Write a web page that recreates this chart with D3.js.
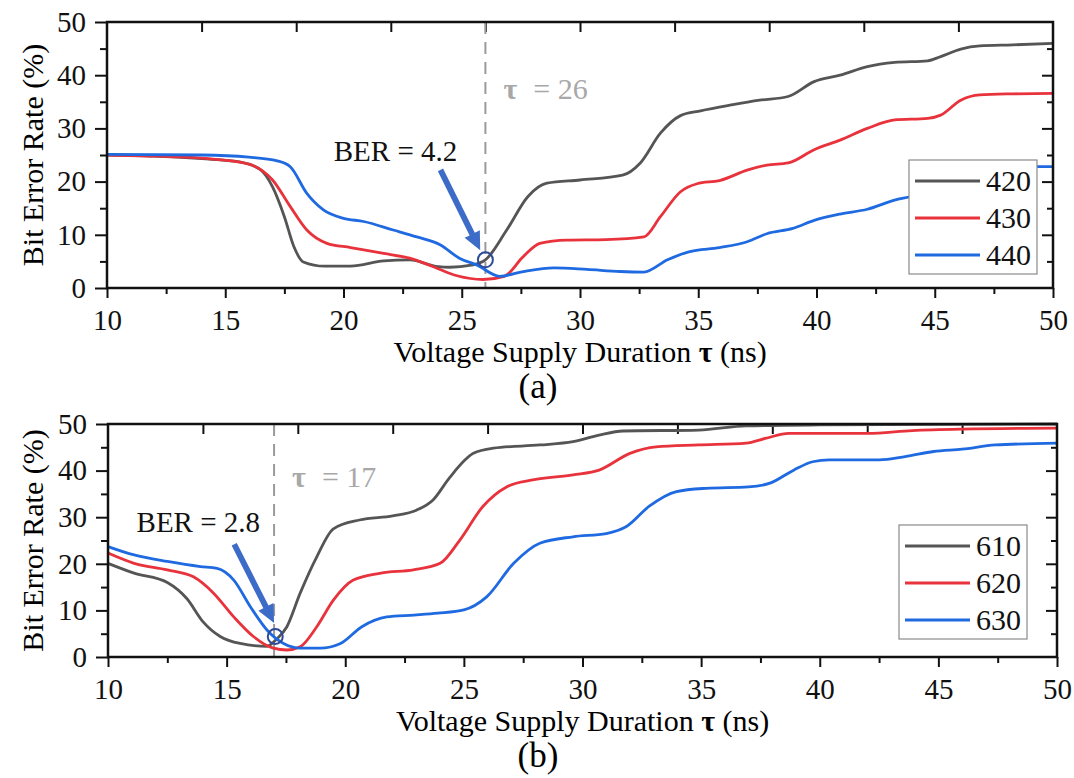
<!DOCTYPE html>
<html lang="en">
<head>
<meta charset="utf-8">
<title>Bit Error Rate vs Voltage Supply Duration</title>
<style>
  body { margin: 0; background: #fff; }
  svg { display: block; background: #fff; }
  .frame { fill: none; stroke: #111; stroke-width: 2.5px; }
  .axis path.domain { display: none; }
  .axis line { stroke: #111; stroke-width: 2px; }
  .axis text { font-size: 29px; fill: #111; }
  .series { fill: none; stroke-width: 2.8px; }
  .guide { stroke: #9a9a9a; stroke-width: 2px; stroke-dasharray: 12,8; }
  .tau-note { font-size: 30px; fill: #a8a8a8; }
  .ber-note { font-size: 29px; fill: #111; }
  .legend rect { fill: #fff; stroke: #8a8a8a; stroke-width: 1.2px; }
  .legend text { font-size: 30px; fill: #111; }
</style>
</head>
<body>
<svg width="1074" height="778"></svg>
<script src="https://d3js.org/d3.v7.min.js"></script>
<script>
// ---- data (tau in ns, BER in %) ----
var tauDomain = [10, 50];
var berDomain = [0, 50];
var tauTicks = [10, 15, 20, 25, 30, 35, 40, 45, 50];
var tauMinor = [12.5, 17.5, 22.5, 27.5, 32.5, 37.5, 42.5, 47.5];
var tauTop = [14, 18, 22, 26, 30, 34, 38, 42, 46];
var berTicks = [0, 10, 20, 30, 40, 50];
var berMinor = [5, 15, 25, 35, 45];

var namesA = ["420", "430", "440"];
var namesB = ["610", "620", "630"];
var colors = ["#555555", "#e8323c", "#1f6ae0"];

var a420 = [[10,25.0],[12,24.8],[14,24.3],[15.6,23.7],[16.5,22.2],[17,19.0],[17.5,13.4],[17.9,7.8],[18.3,4.9],
  [19.2,4.1],[20.3,4.1],[21.7,5.1],[22.8,5.3],[24,4.0],[24.5,3.9],[25.4,4.3],[26,5.3],[26.9,10.9],[27.8,17.2],
  [28.6,19.7],[30,20.3],[31.8,21.2],[32.55,23.5],[33.4,29.1],[34.25,32.4],[35.1,33.3],[36.4,34.4],[37.6,35.3],
  [38.8,36.0],[39.9,38.8],[41,40.0],[42.15,41.6],[43.3,42.4],[44.7,42.7],[45.25,43.5],[46.1,44.9],[46.9,45.5],
  [48.3,45.7],[50,46.0]];
var a430 = [[10,25.0],[12,24.8],[14,24.4],[15.9,23.4],[17,20.3],[17.75,15.3],[18.45,10.9],[19.3,8.4],[20.3,7.6],
  [21.7,6.5],[22.8,5.6],[23.8,4.0],[24.8,2.3],[25.9,1.6],[26.8,2.2],[27.6,5.9],[28.3,8.4],[29.45,9.0],[31.1,9.1],
  [32.7,9.6],[33.4,13.4],[34.25,18.1],[34.95,19.6],[35.9,20.2],[37.1,22.2],[37.9,23.1],[38.8,23.5],[39.9,26.0],
  [41,27.8],[42.15,30.0],[43.3,31.6],[44.7,31.9],[45.25,32.5],[46.1,35.3],[46.9,36.3],[48.35,36.5],[50,36.6]];
var a440 = [[10,25.1],[14,25.0],[16,24.6],[17.2,23.9],[17.75,22.8],[18.45,17.8],[19.15,14.7],[20,13.1],[20.85,12.5],
  [22.1,10.9],[23.1,9.6],[24.1,8.1],[24.9,5.6],[25.65,4.3],[26.6,2.2],[27.6,3.1],[28.9,3.8],[30.3,3.5],[31.7,3.1],
  [32.7,3.0],[33.7,5.3],[34.6,6.8],[35.9,7.6],[37.07,8.7],[37.9,10.2],[39,11.2],[39.9,12.7],[41,13.9],[42.15,14.8],
  [43.3,16.5],[44,17.2],[45,18.5],[46,20.3],[47,22.0],[48,22.6],[49,22.8],[50,22.8]];

var b610 = [[10,20.1],[11.1,18.0],[12.5,16.0],[13.33,12.5],[14,7.6],[14.73,4.4],[15.57,2.9],[16.7,2.3],[17.1,3.8],
  [17.54,6.5],[18.1,13.7],[18.8,21.5],[19.5,27.5],[20.6,29.4],[22,30.3],[23,31.5],[23.7,33.7],[24.4,38.5],
  [25.4,43.7],[26.24,44.8],[28.2,45.5],[29.6,46.2],[30.7,47.6],[31.7,48.5],[34.9,48.7],[36.9,49.6],[40,49.8],[50,50.0]];
var b620 = [[10,22.3],[11.1,20.1],[12.5,18.7],[13.6,17.2],[14.45,13.7],[15.3,8.6],[16.13,4.4],[16.97,1.9],[17.54,1.5],
  [18.1,2.2],[18.8,6.5],[19.5,12.2],[20.34,16.5],[21.5,18.0],[22.87,18.7],[24,20.1],[24.83,25.1],[25.8,32.3],
  [26.8,36.5],[27.9,38.0],[29.6,39.1],[30.7,40.1],[32,43.7],[33.1,45.1],[34.9,45.5],[36.9,45.9],[37.7,46.9],
  [38.7,48.0],[42,48.0],[43.9,48.6],[46,48.9],[50,49.1]];
var b630 = [[10,23.7],[11.1,21.9],[12.5,20.5],[13.9,19.4],[14.6,19.0],[15.3,16.5],[16,10.8],[16.7,5.8],[17.4,2.9],
  [18.1,1.9],[18.94,1.9],[19.8,2.9],[20.7,6.5],[21.75,8.6],[22.9,9.0],[23.9,9.4],[25,10.1],[25.96,12.9],[27.1,20.1],
  [28.2,24.4],[29.6,25.8],[31,26.5],[31.85,28.0],[32.8,32.3],[33.96,35.5],[35.2,36.2],[37,36.5],[37.9,37.3],
  [38.9,40.1],[39.7,41.9],[40.4,42.3],[42.5,42.3],[43.6,43.0],[44.8,44.1],[46,44.6],[47.4,45.5],[50,45.9]];

// annotations: optimal tau, marked point, arrow tail/tip, label end (all in data units)
var optA = { tau: 26, ber: "4.2", mark: [26, 5.3], from: [24.1, 22.2], to: [25.78, 7.1], label: [24.81, 23.9] };
var optB = { tau: 17, ber: "2.8", mark: [17.05, 4.4], from: [15.32, 24.2], to: [17.0, 7.3], label: [16.41, 26.8] };

var svg = d3.select("svg");

function drawPanel(p) {
  var x = d3.scaleLinear().domain(tauDomain).range([p.left, p.right]);
  var y = d3.scaleLinear().domain(berDomain).range([p.bottom, p.top]);
  var g = svg.append("g");

  // bottom axis (outward)
  g.append("g").attr("class", "axis").attr("transform", "translate(0," + p.bottom + ")")
    .call(d3.axisBottom(x).tickValues(tauTicks).tickSize(10).tickPadding(11).tickFormat(d3.format("d")));
  g.append("g").attr("class", "axis").attr("transform", "translate(0," + p.bottom + ")")
    .call(d3.axisBottom(x).tickValues(tauMinor).tickSize(6).tickFormat(""));
  // top axis (inward)
  g.append("g").attr("class", "axis").attr("transform", "translate(0," + p.top + ")")
    .call(d3.axisTop(x).tickValues(tauTop).tickSize(-10).tickFormat(""));
  // left axis (outward)
  g.append("g").attr("class", "axis").attr("transform", "translate(" + p.left + ",0)")
    .call(d3.axisLeft(y).tickValues(berTicks).tickSize(12).tickPadding(9).tickFormat(d3.format("d")));
  g.append("g").attr("class", "axis").attr("transform", "translate(" + p.left + ",0)")
    .call(d3.axisLeft(y).tickValues(berMinor).tickSize(7).tickFormat(""));
  // right axis (inward)
  g.append("g").attr("class", "axis").attr("transform", "translate(" + p.right + ",0)")
    .call(d3.axisRight(y).tickValues(berTicks.slice(1, -1)).tickSize(-11).tickFormat(""));
  g.append("g").attr("class", "axis").attr("transform", "translate(" + p.right + ",0)")
    .call(d3.axisRight(y).tickValues(berMinor).tickSize(-6).tickFormat(""));

  // dashed guide at optimal tau
  g.append("line").attr("class", "guide")
    .attr("x1", x(p.opt.tau)).attr("x2", x(p.opt.tau))
    .attr("y1", p.top).attr("y2", p.bottom);

  var line = d3.line().x(function(d) { return x(d[0]); }).y(function(d) { return y(d[1]); })
    .curve(d3.curveMonotoneX);
  g.selectAll("path.series").data(p.series).enter().append("path")
    .attr("class", "series")
    .attr("stroke", function(d, i) { return colors[i]; })
    .attr("d", line);

  g.append("rect").attr("class", "frame")
    .attr("x", p.left).attr("y", p.top)
    .attr("width", p.right - p.left).attr("height", p.bottom - p.top);

  // tau = ... note
  var tn = g.append("text").attr("class", "tau-note")
    .attr("x", x(p.opt.tau) + 18).attr("y", p.top + p.tauNoteDy);
  tn.append("tspan").attr("font-weight", "bold").text("τ");
  tn.append("tspan").attr("dx", 16).text("= " + p.opt.tau);

  // BER note + arrow + circle
  g.append("text").attr("class", "ber-note").attr("text-anchor", "end")
    .attr("x", x(p.opt.label[0])).attr("y", y(p.opt.label[1]))
    .text("BER = " + p.opt.ber);

  var x0 = x(p.opt.from[0]), y0 = y(p.opt.from[1]), x1 = x(p.opt.to[0]), y1 = y(p.opt.to[1]);
  var len = Math.hypot(x1 - x0, y1 - y0), ux = (x1 - x0) / len, uy = (y1 - y0) / len;
  var nx = -uy, ny = ux, hl = 18, hw = 8.5, sw = 2.9;
  var bx = x1 - ux * hl, by = y1 - uy * hl;
  var pts = [
    [x0 + nx * sw, y0 + ny * sw], [bx + nx * sw, by + ny * sw], [bx + nx * hw, by + ny * hw],
    [x1, y1],
    [bx - nx * hw, by - ny * hw], [bx - nx * sw, by - ny * sw], [x0 - nx * sw, y0 - ny * sw]
  ];
  g.append("path").attr("fill", "#3d6cc8").attr("d", "M" + pts.join("L") + "Z");

  g.append("circle").attr("cx", x(p.opt.mark[0])).attr("cy", y(p.opt.mark[1])).attr("r", 7.5)
    .attr("fill", "none").attr("stroke", "#2f4a9a").attr("stroke-width", 2);

  // legend
  var lg = g.append("g").attr("class", "legend").attr("transform", "translate(" + p.legend[0] + "," + p.legend[1] + ")");
  lg.append("rect").attr("width", 128).attr("height", 114);
  p.names.forEach(function(n, i) {
    var yy = 21 + i * 37;
    lg.append("line").attr("x1", 6).attr("x2", 71).attr("y1", yy).attr("y2", yy)
      .attr("stroke", colors[i]).attr("stroke-width", 3);
    lg.append("text").attr("x", 77).attr("y", yy + 10).text(n);
  });

  // axis titles
  svg.append("text").attr("text-anchor", "middle")
    .attr("transform", "translate(43," + (p.top + p.bottom) / 2 + ") rotate(-90)")
    .style("font-size", "30px").text("Bit Error Rate (%)");
  var xt = svg.append("text").attr("text-anchor", "middle")
    .attr("x", (p.left + p.right) / 2).attr("y", p.bottom + 74).style("font-size", "30px");
  xt.append("tspan").text("Voltage Supply Duration ");
  xt.append("tspan").attr("font-weight", "bold").text("τ");
  xt.append("tspan").text(" (ns)");
  svg.append("text").attr("text-anchor", "middle")
    .attr("x", 538).attr("y", p.bottom + 110).style("font-size", "35px").text(p.tag);
}

drawPanel({ left: 107, right: 1053, top: 22, bottom: 288, series: [a420, a430, a440],
  names: namesA, opt: optA, tauNoteDy: 77, legend: [909, 160], tag: "(a)" });
drawPanel({ left: 108, right: 1057, top: 424, bottom: 657, series: [b610, b620, b630],
  names: namesB, opt: optB, tauNoteDy: 63, legend: [899, 525], tag: "(b)" });

// serif everywhere (overrides the axis default)
svg.selectAll("text").style("font-family", "'Liberation Serif'");
</script>
</body>
</html>
